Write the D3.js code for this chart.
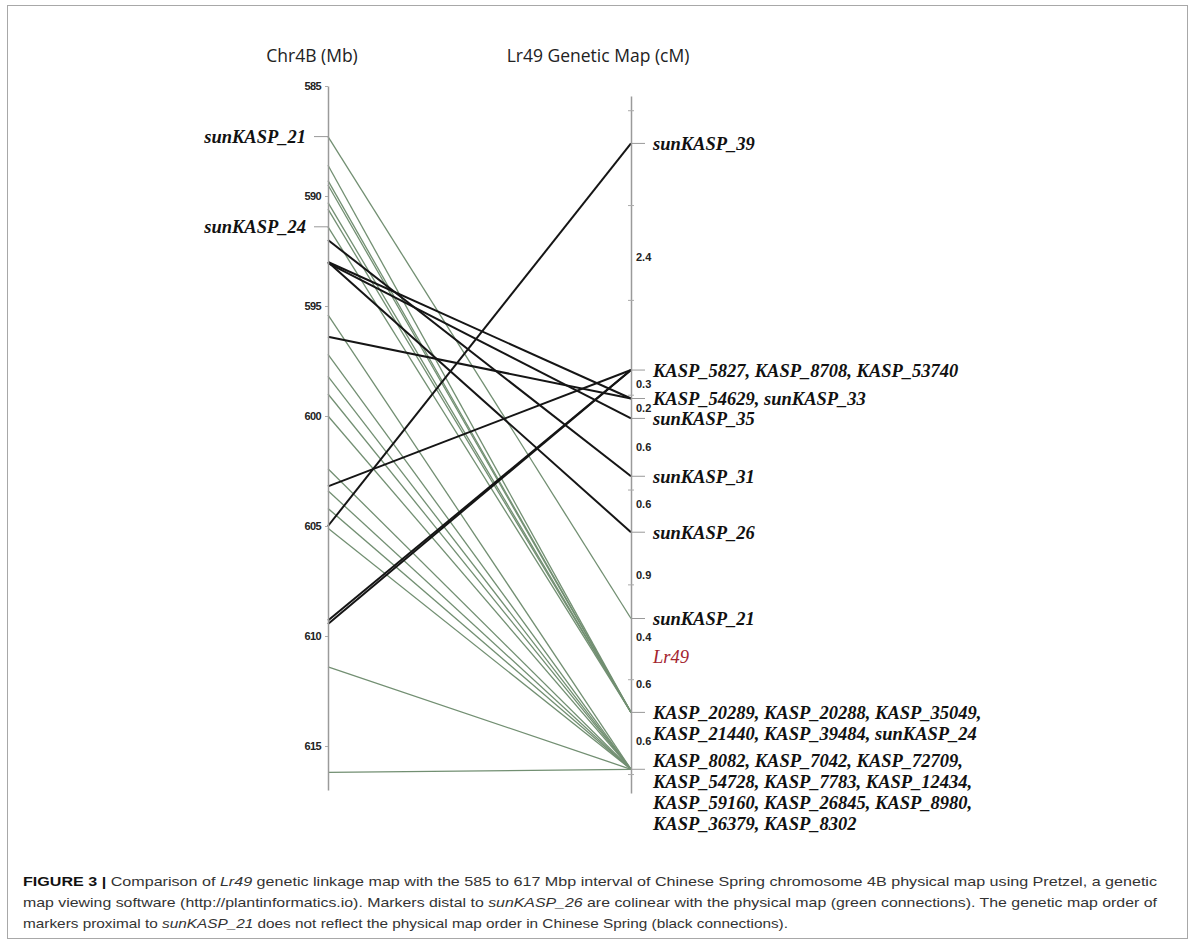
<!DOCTYPE html>
<html>
<head>
<meta charset="utf-8">
<script src="https://cdn.jsdelivr.net/npm/d3@7"></script>
<style>
  body { margin: 0; background: #fff; }
</style>
</head>
<body>
<script>
// physical map, Chr4B (Mb)
const mbTicks = [585, 590, 595, 600, 605, 610, 615];
const leftLabels = ["sunKASP_21", "sunKASP_24"];
const leftLabelMb = [587.3, 591.4];

// genetic map loci, top to bottom
const loci = [
  ["sunKASP_39"],
  ["KASP_5827, KASP_8708, KASP_53740"],
  ["KASP_54629, sunKASP_33"],
  ["sunKASP_35"],
  ["sunKASP_31"],
  ["sunKASP_26"],
  ["sunKASP_21"],
  ["KASP_20289, KASP_20288, KASP_35049,", "KASP_21440, KASP_39484, sunKASP_24"],
  ["KASP_8082, KASP_7042, KASP_72709,", "KASP_54728, KASP_7783, KASP_12434,",
   "KASP_59160, KASP_26845, KASP_8980,", "KASP_36379, KASP_8302"]
];
const lociCM = [0.35, 2.74, 3.04, 3.25, 3.86, 4.45, 5.36, 6.35, 6.95];
const geneName = "Lr49";
const geneCM = 5.76;
const intervalLabels = ["2.4", "0.3", "0.2", "0.6", "0.6", "0.9", "0.4", "0.6", "0.6"];

// connections (black = order differs, green = colinear)
const blackMb = [605.0, 603.2, 609.3, 609.45, 593.0, 596.4, 593.05, 592.0, 593.0];
const blackLocus = [0, 1, 1, 1, 2, 2, 3, 4, 5];
const greenMb = [587.3, 588.6, 589.3, 589.5, 590.3, 590.6, 591.4,
  595.4, 597.2, 598.2, 599.0, 600.0, 602.4, 603.4, 604.2, 605.1, 611.4, 616.2];
const greenLocus = [6, 7, 7, 7, 7, 7, 7, 8, 8, 8, 8, 8, 8, 8, 8, 8, 8, 8];

const W = 1194, H = 946;
const xL = 328, xR = 631;

const svg = d3.select("body").append("svg")
  .attr("width", W)
  .attr("height", H);

svg.append("rect")
  .attr("x", 7.5).attr("y", 5.5)
  .attr("width", 1180).attr("height", 933)
  .attr("fill", "none")
  .attr("stroke", "#a8a8a8");

let yMb = d3.scaleLinear().domain([585, 617]).range([86, 790]);
let yCM = d3.scaleLinear().domain([-0.15, 7.2]).range([96, 793]);

// titles
svg.append("text")
  .attr("x", 312).attr("y", 62)
  .attr("text-anchor", "middle")
  .attr("font-family", "Open Sans")
  .attr("font-size", 17.5)
  .attr("fill", "#222")
  .text("Chr4B (Mb)");
svg.append("text")
  .attr("x", 598).attr("y", 62)
  .attr("text-anchor", "middle")
  .attr("font-family", "Open Sans")
  .attr("font-size", 17.5)
  .attr("fill", "#222")
  .text("Lr49 Genetic Map (cM)");

// connections
greenMb.forEach((mb, i) => {
  svg.append("line")
    .attr("x1", xL).attr("y1", yMb(mb))
    .attr("x2", xR).attr("y2", yCM(lociCM[greenLocus[i]]))
    .attr("stroke", "#728f72")
    .attr("stroke-width", 1.3);
});
blackMb.forEach((mb, i) => {
  svg.append("line")
    .attr("x1", xL).attr("y1", yMb(mb))
    .attr("x2", xR).attr("y2", yCM(lociCM[blackLocus[i]]))
    .attr("stroke", "#151515")
    .attr("stroke-width", 2);
});

// left axis
let gL = svg.append("g")
  .attr("transform", "translate(" + xL + ",0)")
  .call(d3.axisLeft(yMb)
    .tickValues(mbTicks)
    .tickSize(3)
    .tickSizeOuter(0)
    .tickPadding(4));
gL.select(".domain").attr("stroke", "#9a9a9a").attr("stroke-width", 1.5);
gL.selectAll(".tick line").attr("stroke", "#aaa");
gL.selectAll(".tick text")
  .attr("font-family", "Liberation Sans")
  .attr("font-weight", "bold")
  .attr("font-size", 11)
  .attr("letter-spacing", -0.6)
  .attr("fill", "#222");

// right axis
let gR = svg.append("g")
  .attr("transform", "translate(" + xR + ",0)")
  .call(d3.axisRight(yCM)
    .tickValues(d3.range(0, 8))
    .tickFormat("")
    .tickSize(3)
    .tickSizeOuter(0));
gR.select(".domain").attr("stroke", "#9a9a9a").attr("stroke-width", 1.5);
gR.selectAll(".tick line").attr("stroke", "#aaa").attr("x1", -3);

// left marker labels
leftLabels.forEach((name, i) => {
  let y = yMb(leftLabelMb[i]);
  svg.append("line")
    .attr("x1", xL - 14).attr("x2", xL)
    .attr("y1", y).attr("y2", y)
    .attr("stroke", "#999");
  svg.append("text")
    .attr("x", xL - 22).attr("y", y)
    .attr("dy", "0.35em")
    .attr("text-anchor", "end")
    .attr("font-family", "Liberation Serif")
    .attr("font-style", "italic")
    .attr("font-weight", "bold")
    .attr("font-size", 18.5)
    .attr("fill", "#111")
    .text(name);
});

// right loci labels
loci.forEach((lines, i) => {
  let y = yCM(lociCM[i]);
  svg.append("line")
    .attr("x1", xR).attr("x2", xR + 14)
    .attr("y1", y).attr("y2", y)
    .attr("stroke", "#999");
  let shift = lines.length > 2 ? -9 : 0;
  let t = svg.append("text")
    .attr("font-family", "Liberation Serif")
    .attr("font-style", "italic")
    .attr("font-weight", "bold")
    .attr("font-size", 18.5)
    .attr("fill", "#111");
  lines.forEach((s, j) => {
    t.append("tspan")
      .attr("x", xR + 22)
      .attr("y", y + shift + j * 21)
      .attr("dy", "0.35em")
      .text(s);
  });
});

svg.append("text")
  .attr("x", xR + 22).attr("y", yCM(geneCM))
  .attr("dy", "0.35em")
  .attr("font-family", "Liberation Serif")
  .attr("font-style", "italic")
  .attr("font-size", 18.5)
  .attr("fill", "#a3232e")
  .text(geneName);

// interval distances between neighbouring loci
let allCM = lociCM.concat([geneCM]).sort((a, b) => a - b);
intervalLabels.forEach((lab, i) => {
  svg.append("text")
    .attr("x", xR + 5)
    .attr("y", yCM((allCM[i] + allCM[i + 1]) / 2))
    .attr("dy", "0.35em")
    .attr("font-family", "Liberation Sans")
    .attr("font-weight", "bold")
    .attr("font-size", 11)
    .attr("fill", "#222")
    .text(lab);
});

// caption
const cap = svg.append("g")
  .attr("font-family", "Liberation Sans")
  .attr("font-size", 13.5)
  .attr("fill", "#333");

let c1 = cap.append("text").attr("x", 23).attr("y", 886).attr("textLength", 1134).attr("lengthAdjust", "spacingAndGlyphs");
c1.append("tspan").attr("font-weight", "bold").attr("fill", "#111").text("FIGURE 3 | ");
c1.append("tspan").text("Comparison of ");
c1.append("tspan").attr("font-style", "italic").text("Lr49");
c1.append("tspan").text(" genetic linkage map with the 585 to 617 Mbp interval of Chinese Spring chromosome 4B physical map using Pretzel, a genetic");

let c2 = cap.append("text").attr("x", 23).attr("y", 907).attr("textLength", 1134).attr("lengthAdjust", "spacingAndGlyphs");
c2.append("tspan").text("map viewing software (http://plantinformatics.io). Markers distal to ");
c2.append("tspan").attr("font-style", "italic").text("sunKASP_26");
c2.append("tspan").text(" are colinear with the physical map (green connections). The genetic map order of");

let c3 = cap.append("text").attr("x", 23).attr("y", 928).attr("textLength", 765).attr("lengthAdjust", "spacingAndGlyphs");
c3.append("tspan").text("markers proximal to ");
c3.append("tspan").attr("font-style", "italic").text("sunKASP_21");
c3.append("tspan").text(" does not reflect the physical map order in Chinese Spring (black connections).");
</script>
</body>
</html>
